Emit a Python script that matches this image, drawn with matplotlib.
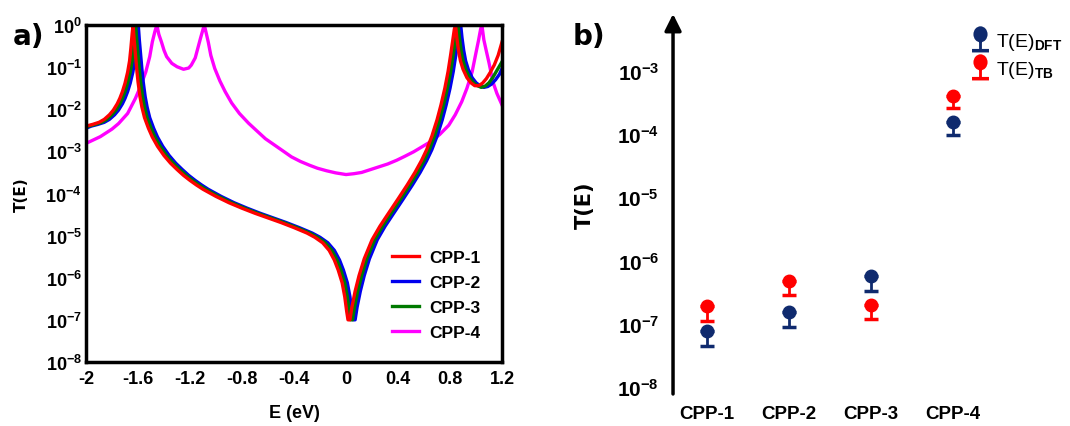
import numpy as np
import matplotlib
matplotlib.use('Agg')
import matplotlib.pyplot as plt
from matplotlib import font_manager
from matplotlib.path import Path
from matplotlib.lines import Line2D

names = {f.name for f in font_manager.fontManager.ttflist}
narrow = 'Liberation Sans Narrow' if 'Liberation Sans Narrow' in names else 'Liberation Sans'

plt.rcParams['font.family'] = [narrow, 'DejaVu Sans']
plt.rcParams['font.weight'] = 'bold'
plt.rcParams['mathtext.fontset'] = 'custom'
plt.rcParams['mathtext.rm'] = narrow
plt.rcParams['mathtext.bf'] = narrow + ':bold'

# panel a: transmission spectra, E (eV) and log10 T(E), read piece by piece
# CPP-1 (red)
e1_rise = [-2.00, -1.95, -1.90, -1.86, -1.82, -1.79, -1.76, -1.74, -1.72, -1.70, -1.68, -1.665, -1.655,
           -1.645, -1.638]
e1_fall = [-1.63, -1.62, -1.61, -1.60, -1.585, -1.57, -1.55, -1.52, -1.49, -1.45, -1.40, -1.35, -1.30,
           -1.25, -1.20, -1.15, -1.10, -1.00, -0.90, -0.80, -0.70, -0.60, -0.50, -0.40, -0.30, -0.24,
           -0.18, -0.13, -0.09, -0.06, -0.03, -0.01, 0.005, 0.015, 0.03]
e1_up = [0.045, 0.07, 0.10, 0.14, 0.20, 0.26, 0.32, 0.40, 0.47, 0.53, 0.58, 0.62, 0.66, 0.70, 0.73, 0.76,
         0.785, 0.805, 0.82, 0.833, 0.842]
e1_end = [0.852, 0.865, 0.88, 0.90, 0.93, 0.96, 0.99, 1.02, 1.05, 1.08, 1.11, 1.14, 1.17, 1.20]
lt1_rise = [-2.40, -2.36, -2.31, -2.24, -2.13, -2.02, -1.87, -1.74, -1.58, -1.38, -1.12, -0.85, -0.55,
            -0.20, 0.00]
lt1_end = [-0.30, -0.60, -0.85, -1.05, -1.25, -1.37, -1.44, -1.44, -1.38, -1.27, -1.12, -0.95, -0.72, -0.40]

# CPP-2 (blue)
e2_rise = [-2.00, -1.96, -1.91, -1.86, -1.82, -1.78, -1.75, -1.72, -1.70, -1.68, -1.66, -1.64, -1.625,
           -1.615, -1.605, -1.598]
e2_fall = [-1.59, -1.58, -1.57, -1.56, -1.545, -1.53, -1.51, -1.48, -1.45, -1.41, -1.36, -1.31, -1.26,
           -1.21, -1.16, -1.11, -1.06, -0.96, -0.86, -0.76, -0.66, -0.56, -0.46, -0.36, -0.26, -0.20,
           -0.14, -0.09, -0.05, -0.02, 0.01, 0.03, 0.045, 0.055, 0.07]
e2_up = [0.085, 0.11, 0.14, 0.18, 0.24, 0.30, 0.36, 0.44, 0.51, 0.57, 0.62, 0.66, 0.70, 0.74, 0.77, 0.80,
         0.825, 0.845, 0.86, 0.873, 0.882]
e2_end = [0.892, 0.905, 0.92, 0.94, 0.97, 1.00, 1.03, 1.06, 1.09, 1.12, 1.15, 1.18, 1.20]
lt2_rise = [-2.45, -2.40, -2.36, -2.31, -2.24, -2.13, -2.02, -1.87, -1.74, -1.58, -1.38, -1.12, -0.85,
            -0.55, -0.20, 0.00]
lt2_end = [-0.30, -0.60, -0.85, -1.05, -1.25, -1.37, -1.44, -1.48, -1.46, -1.40, -1.30, -1.17, -1.03]

# CPP-3 (green)
e3_rise = [-2.00, -1.98, -1.93, -1.88, -1.84, -1.80, -1.77, -1.74, -1.72, -1.70, -1.68, -1.66, -1.645,
           -1.635, -1.625, -1.618]
e3_fall = [-1.61, -1.60, -1.59, -1.58, -1.565, -1.55, -1.53, -1.50, -1.47, -1.43, -1.38, -1.33, -1.28,
           -1.23, -1.18, -1.13, -1.08, -0.98, -0.88, -0.78, -0.68, -0.58, -0.48, -0.38, -0.28, -0.22,
           -0.16, -0.11, -0.07, -0.04, -0.01, 0.01, 0.025, 0.035, 0.05]
e3_up = [0.065, 0.09, 0.12, 0.16, 0.22, 0.28, 0.34, 0.42, 0.49, 0.55, 0.60, 0.64, 0.68, 0.72, 0.75, 0.78,
         0.805, 0.825, 0.84, 0.853, 0.862]
e3_end = [0.872, 0.885, 0.90, 0.92, 0.95, 0.98, 1.01, 1.04, 1.07, 1.10, 1.13, 1.16, 1.20]
lt3_rise = [-2.43, -2.40, -2.36, -2.31, -2.24, -2.13, -2.02, -1.87, -1.74, -1.58, -1.38, -1.12, -0.85,
            -0.55, -0.20, 0.00]
lt3_end = [-0.30, -0.60, -0.85, -1.05, -1.25, -1.37, -1.44, -1.48, -1.45, -1.37, -1.24, -1.08, -0.87]

# the three CPP-1..3 curves share the shape of the falling and rising flanks
lt_fall = [-0.35, -0.70, -1.05, -1.35, -1.70, -1.95, -2.20, -2.45, -2.66, -2.88, -3.10, -3.28, -3.43,
           -3.57, -3.69, -3.80, -3.90, -4.07, -4.22, -4.35, -4.47, -4.58, -4.69, -4.81, -4.94, -5.04,
           -5.17, -5.35, -5.58, -5.82, -6.12, -6.45, -6.80, -7.00, -7.00]
lt_up = [-6.70, -6.32, -5.95, -5.55, -5.10, -4.78, -4.50, -4.13, -3.80, -3.50, -3.22, -2.96, -2.64, -2.25,
         -1.90, -1.50, -1.10, -0.70, -0.38, -0.10, 0.00]

# CPP-4 (magenta)
e4 = [-2.00, -1.89, -1.80, -1.75, -1.68, -1.62, -1.58, -1.54, -1.51, -1.49, -1.47, -1.455, -1.44, -1.42,
      -1.40, -1.38, -1.34, -1.30, -1.25, -1.21, -1.19, -1.16, -1.14, -1.12, -1.10, -1.09, -1.075, -1.06,
      -1.04, -1.01, -0.97, -0.93, -0.88, -0.82, -0.75, -0.68, -0.62, -0.55, -0.48, -0.42, -0.35, -0.28,
      -0.22, -0.15, -0.08, 0.00, 0.06, 0.12, 0.18, 0.25, 0.32, 0.39, 0.45, 0.52, 0.58, 0.65, 0.72, 0.79,
      0.84, 0.89, 0.93, 0.97, 1.00, 1.02, 1.035, 1.045, 1.06, 1.08, 1.10, 1.13, 1.16, 1.20]
lt4 = [-2.81, -2.65, -2.47, -2.34, -2.10, -1.74, -1.45, -1.11, -0.75, -0.40, -0.15, 0.00, -0.22, -0.40,
       -0.60, -0.75, -0.91, -0.99, -1.05, -1.02, -0.95, -0.78, -0.55, -0.32, -0.10, 0.00, -0.20, -0.40,
       -0.72, -1.03, -1.33, -1.58, -1.85, -2.10, -2.33, -2.53, -2.70, -2.85, -3.00, -3.13, -3.24, -3.33,
       -3.40, -3.46, -3.51, -3.55, -3.53, -3.50, -3.44, -3.37, -3.30, -3.21, -3.12, -3.01, -2.90, -2.77,
       -2.60, -2.38, -2.13, -1.82, -1.50, -1.11, -0.65, -0.35, -0.10, 0.00, -0.35, -0.63, -0.90, -1.35,
       -1.62, -1.90]

# panel b: T(E) near the Fermi level, point and lower bar end
cats = ['CPP-1', 'CPP-2', 'CPP-3', 'CPP-4']
t_dft = [7.7e-8, 1.55e-7, 5.8e-7, 1.56e-4]
t_dft_low = [4.5e-8, 8.9e-8, 3.3e-7, 9.5e-5]
t_tb = [1.9e-7, 4.8e-7, 2.0e-7, 4.0e-4]
t_tb_low = [1.1e-7, 2.9e-7, 1.2e-7, 2.6e-4]

curves = [
    ('CPP-1', '#ff0000', e1_rise + e1_fall + e1_up + e1_end, lt1_rise + lt_fall + lt_up + lt1_end),
    ('CPP-2', '#0000ee', e2_rise + e2_fall + e2_up + e2_end, lt2_rise + lt_fall + lt_up + lt2_end),
    ('CPP-3', '#007a00', e3_rise + e3_fall + e3_up + e3_end, lt3_rise + lt_fall + lt_up + lt3_end),
    ('CPP-4', '#ff00ff', e4, lt4),
]

fig = plt.figure(figsize=(10.7, 4.27), dpi=100)

# ---- a)
ax = fig.add_axes([0.0804, 0.150, 0.3888, 0.789])
lines = {}
for name, col, ee, lt in [curves[3], curves[1], curves[2], curves[0]]:
    lines[name], = ax.plot(ee, 10 ** np.array(lt), color=col, lw=2.4, label=name,
                           solid_joinstyle='round')
ax.set_yscale('log')
ax.set_xlim(-2, 1.2)
ax.set_ylim(1e-8, 1)
ax.set_xticks([-2, -1.6, -1.2, -0.8, -0.4, 0, 0.4, 0.8, 1.2])
ax.set_xticklabels(['-2', '-1.6', '-1.2', '-0.8', '-0.4', '0', '0.4', '0.8', '1.2'])
ax.set_yticks([10.0 ** k for k in range(-8, 1)])
ax.set_yticklabels([r'$\mathbf{10^{%d}}$' % k for k in range(-8, 1)])
ax.minorticks_off()
ax.tick_params(length=0, labelsize=13, pad=6)
ax.tick_params(axis='y', pad=3)
for s in ax.spines.values():
    s.set_linewidth(2.5)
ax.set_xlabel('E (eV)', fontsize=13, fontweight='bold', labelpad=12)
ax.set_ylabel('T(E)', fontsize=11, fontweight='bold', labelpad=12, family='DejaVu Sans')
ax.legend([lines[c[0]] for c in curves], [c[0] for c in curves], loc='lower right', frameon=False,
          fontsize=12.5, handlelength=1.5, handletextpad=0.6, labelspacing=0.55,
          bbox_to_anchor=(0.985, 0.02))
fig.text(0.012, 0.895, 'a)', fontsize=20, fontweight='bold', family='DejaVu Sans')

# ---- b)
bx = fig.add_axes([0.629, 0.075, 0.371, 0.890])
x = np.arange(1, len(cats) + 1)
dft_err = [np.array(t_dft) - np.array(t_dft_low), np.zeros(len(cats))]
tb_err = [np.array(t_tb) - np.array(t_tb_low), np.zeros(len(cats))]
bx.errorbar(x, t_dft, yerr=dft_err, fmt='o', color='#0f2a6e', ms=9, capsize=5, capthick=2.5,
            elinewidth=2)
bx.errorbar(x, t_tb, yerr=tb_err, fmt='o', color='#ff0000', ms=9, capsize=5, capthick=2.5,
            elinewidth=2)
bx.set_yscale('log')
bx.set_ylim(10 ** -8.11, 10 ** -2.1)
bx.set_xlim(0.585, 5.43)
bx.set_xticks(x)
bx.set_xticklabels(cats)
bx.set_yticks([10.0 ** k for k in range(-8, -2)])
bx.set_yticklabels([r'$\mathbf{10^{%d}}$' % k for k in range(-8, -2)])
bx.minorticks_off()
bx.tick_params(length=0, labelsize=15, pad=10)
bx.tick_params(axis='x', labelsize=13.5, pad=8)
for s in bx.spines.values():
    s.set_visible(False)
bx.annotate('', xy=(0, 1), xytext=(0, 0), xycoords='axes fraction', textcoords='axes fraction',
            arrowprops=dict(arrowstyle='-|>', lw=2.5, color='black', mutation_scale=25,
                            shrinkA=0, shrinkB=0))
bx.set_ylabel('T(E)', fontsize=15, fontweight='bold', labelpad=16, family='DejaVu Sans')

# legend symbol: dot on a short stem with a foot, like the plotted points
pin = Path.make_compound_path(
    Path(Path.unit_circle().vertices * [0.30, 0.34] + [0, 0.22], Path.unit_circle().codes),
    Path([(-0.06, -0.40), (0.06, -0.40), (0.06, 0.0), (-0.06, 0.0), (-0.06, -0.40)]),
    Path([(-0.36, -0.55), (0.36, -0.55), (0.36, -0.40), (-0.36, -0.40), (-0.36, -0.55)]),
)
pins = [Line2D([], [], ls='none', marker=pin, ms=19, color=c, markeredgewidth=0)
        for c in ['#0f2a6e', '#ff0000']]
bx.legend(pins, [r'T(E)$_{\mathrm{DFT}}$', r'T(E)$_{\mathrm{TB}}$'], loc='upper right', frameon=False,
          handletextpad=0.2, handlelength=1.2, labelspacing=0.35, borderaxespad=0.0,
          bbox_to_anchor=(1.0, 0.975), prop={'weight': 'normal', 'size': 14})
fig.text(0.535, 0.895, 'b)', fontsize=20, fontweight='bold', family='DejaVu Sans')

fig.savefig('out.png', dpi=100)
